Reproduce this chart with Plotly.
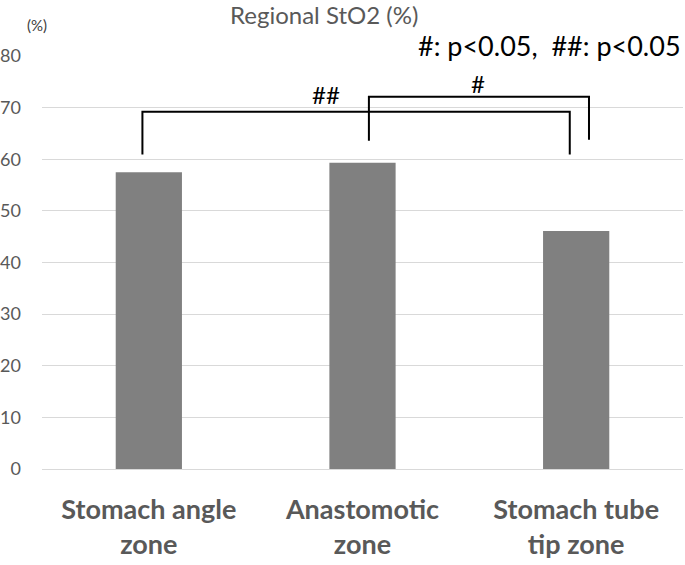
import plotly.graph_objects as go

categories = ["Stomach angle<br>zone", "Anastomotic<br>zone", "Stomach tube<br>tip zone"]
values = [57.5, 59.3, 46.1]
y_ticks = [0, 10, 20, 30, 40, 50, 60, 70, 80]

# significance brackets: (x_left, x_right, top_y, left_bottom_y, right_bottom_y, label, label_x, label_y)
brackets = [
    (-0.03, 1.97, 69.2, 60.9, 60.9, "##", 0.83, 72.5),
    (1.03, 2.06, 72.1, 63.6, 63.8, "#", 1.54, 74.6),
]

FONT = "Lato, Open Sans, sans-serif"
GRAY = "#595959"
W, H, L, R, T, B = 685, 565, 42, 2, 56, 96


def px(x):
    return (x - L) / (W - L - R)


def py(y):
    return (H - B - y) / (H - T - B)


fig = go.Figure()
fig.add_trace(go.Bar(
    x=list(range(len(categories))), y=values,
    marker=dict(color="#808080", line=dict(width=0)),
    width=0.31, hoverinfo="skip",
))

for xl, xr, yt, ybl, ybr, lab, lx, ly in brackets:
    fig.add_shape(type="path",
                  path=f"M {xl} {ybl} L {xl} {yt} L {xr} {yt} L {xr} {ybr}",
                  xref="x", yref="y", line=dict(color="black", width=2))
    fig.add_annotation(x=lx, y=ly, xref="x", yref="y", text=lab, showarrow=False,
                       font=dict(family=FONT, size=24, color="black"))

fig.add_annotation(x=px(324), y=py(14), xref="paper", yref="paper", text="Regional StO2 (%)",
                   showarrow=False, xanchor="center", yanchor="middle",
                   font=dict(family=FONT, size=24, color=GRAY))
fig.add_annotation(x=px(37), y=py(25), xref="paper", yref="paper", text="(%)",
                   showarrow=False, xanchor="center", yanchor="middle",
                   font=dict(family=FONT, size=15, color="#404040"))
fig.add_annotation(x=px(683), y=py(46), xref="paper", yref="paper", text="#: p<0.05,  ##: p<0.05",
                   showarrow=False, xanchor="right", yanchor="middle",
                   font=dict(family=FONT, size=27, color="black"))

fig.update_layout(
    width=W, height=H,
    margin=dict(l=L, r=R, t=T, b=B, autoexpand=False),
    paper_bgcolor="white", plot_bgcolor="white",
    showlegend=False,
    xaxis=dict(tickmode="array", tickvals=list(range(len(categories))),
               ticktext=[f"<b>{c}</b>" for c in categories],
               range=[-0.5, 2.5], showgrid=False, zeroline=False, showline=False,
               tickfont=dict(family=FONT, size=27, color=GRAY), ticks="",
               ticklabelstandoff=22),
    yaxis=dict(range=[0, 80], tickvals=y_ticks, showgrid=True, gridcolor="#d9d9d9", gridwidth=1,
               zeroline=True, zerolinecolor="#d9d9d9", zerolinewidth=1, showline=False,
               tickfont=dict(family=FONT, size=18, color=GRAY), ticks="", ticklabelstandoff=20),
)

fig.write_html("out.html", config={"displayModeBar": False},
               post_script="document.body.style.margin='0';")
